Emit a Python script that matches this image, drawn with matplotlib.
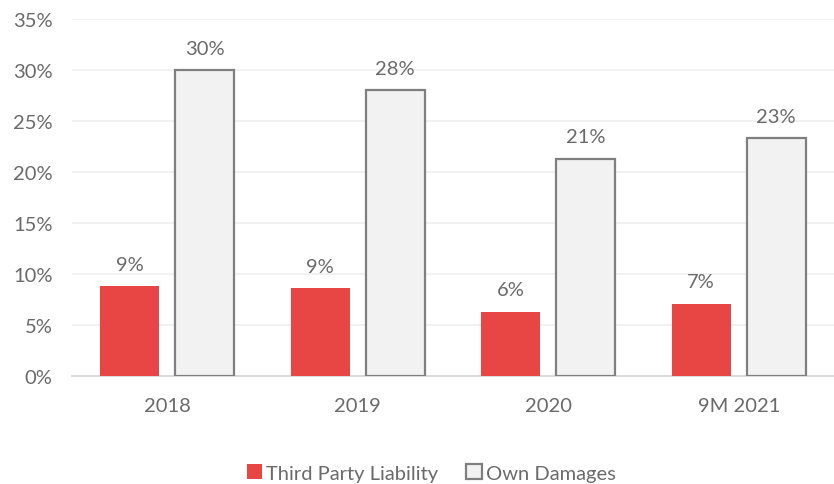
import numpy as np
import matplotlib.pyplot as plt
from matplotlib.ticker import FuncFormatter

plt.rcParams['font.family'] = ['Lato', 'DejaVu Sans']

years = ['2018', '2019', '2020', '9M 2021']
tpl = [8.8, 8.6, 6.3, 7.1]
own = [30.0, 28.0, 21.3, 23.3]

txt = '#6a6a6a'
fs = 14.5
fig = plt.figure(figsize=(8.34, 4.85), dpi=100)
ax = fig.add_axes([0.0863, 0.2227, 0.9137, 0.736])

x = np.arange(len(years))
w = 0.31
off = 0.197
b1 = ax.bar(x - off, tpl, w, color='#e84545', label='Third Party Liability', zorder=3)
b2 = ax.bar(x + off, own, w, color='#f2f2f2', edgecolor='#7f7f7f', linewidth=1.6,
            label='Own Damages', zorder=3)

for bars, vals in ((b1, tpl), (b2, own)):
    for b, v in zip(bars, vals):
        ax.text(b.get_x() + b.get_width() / 2, v + 1.3, '%d%%' % round(v),
                ha='center', va='bottom', fontsize=fs, color=txt)

ax.set_xlim(-0.5, 3.5)
ax.set_ylim(0, 35)
ax.set_yticks(np.arange(0, 36, 5))
ax.yaxis.set_major_formatter(FuncFormatter(lambda v, p: '%d%%' % v))
ax.set_xticks(x)
ax.set_xticklabels(years)
ax.tick_params(length=0, labelsize=fs, colors=txt)
ax.tick_params(axis='x', pad=15)
ax.tick_params(axis='y', pad=14)
ax.yaxis.grid(True, color='#efefef', linewidth=1.2, zorder=0)
for s in ['top', 'right', 'left']:
    ax.spines[s].set_visible(False)
ax.spines['bottom'].set_color('#d9d9d9')
ax.spines['bottom'].set_linewidth(1.3)

leg = fig.legend(loc='lower center', bbox_to_anchor=(0.517, -0.033), ncol=2, frameon=False,
                 fontsize=fs, handlelength=0.75, handleheight=0.75, handletextpad=0.2,
                 columnspacing=1.4)
for t in leg.get_texts():
    t.set_color(txt)

fig.savefig('out.png', dpi=100)
